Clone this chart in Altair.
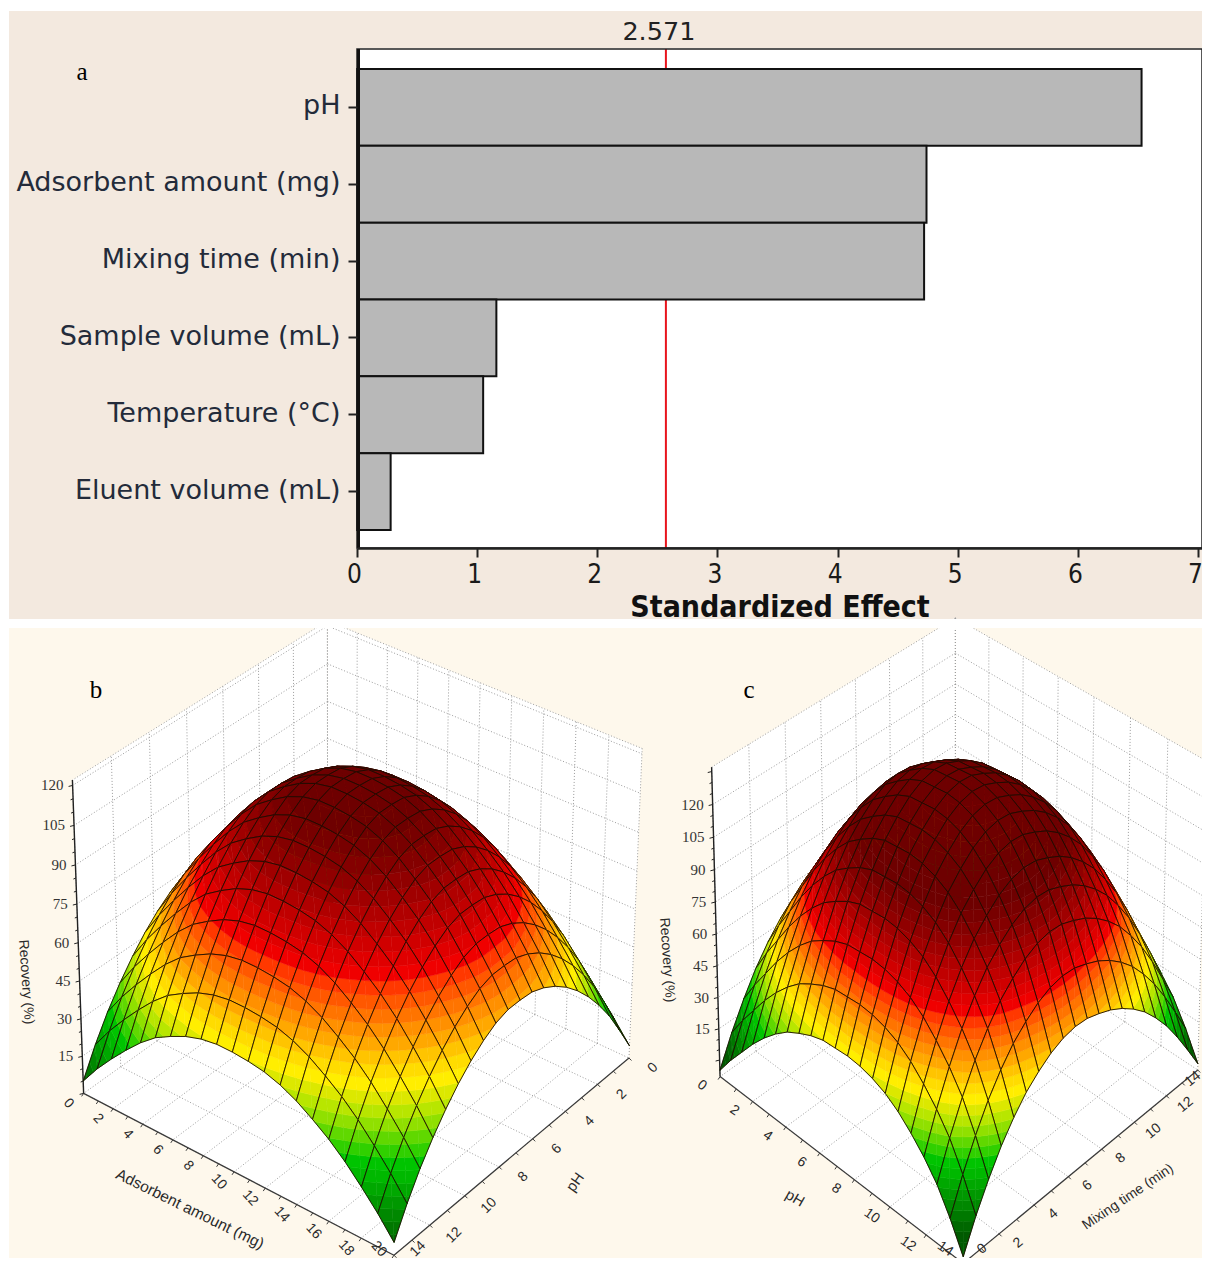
import altair as alt
import numpy as np
import pandas as pd

# ---------- panel a ----------
factors = ["pH", "Adsorbent amount (mg)", "Mixing time (min)", "Sample volume (mL)", "Temperature (°C)", "Eluent volume (mL)"]
effects = [6.53, 4.74, 4.72, 1.16, 1.05, 0.28]
threshold = 2.571
x_ticks = [0, 1, 2, 3, 4, 5, 6, 7]

# ---------- surfaces: heights read along the two edges of each surface ----------
b_base = 5
b_cross = 12
b_profile_x = [0, 8, 15, 21.5, 27.5, 32.5, 36, 39, 41, 42, 42, 41.5, 40.5, 38.5, 35.5, 31.5, 27, 21.5, 15, 8, 0]
b_profile_y = [0, 10, 19.5, 27.5, 34.5, 40.5, 45.5, 49.5, 52.5, 54.5, 55, 55, 53.5, 50.5, 46.5, 41.5, 35.5, 28.5, 20.5, 11, 0]
c_base = -5
c_cross = 24
c_profile_x = [0, 9, 17, 25, 32, 38, 43, 46.5, 49.5, 51.5, 52, 52.5, 52, 50.5, 48, 44, 38.5, 32, 24, 13, 0]
c_profile_y = [0, 11, 21.5, 31, 39, 46, 51.5, 56, 59.5, 62, 64, 64.5, 63.5, 61, 57, 52, 45, 36.5, 26, 14, 0]

band_colors = ["#005a00", "#006800", "#007800", "#008800", "#009800", "#00a800", "#00b800", "#00c400",
               "#30d000", "#60d800", "#90e000", "#b8e600", "#dce800", "#ffee00", "#ffdc00", "#ffc400",
               "#ffa800", "#ff9000", "#ff7400", "#ff5800", "#ff3800", "#f00000", "#e00000", "#d00000",
               "#c00000", "#b00000", "#a00000", "#900000", "#840000", "#780000", "#6e0000"]

z_ticks = [15, 30, 45, 60, 75, 90, 105, 120]
ORIGIN = 8
MAX_Y = 1249
MAX_X = 1193


def solve_camera(points):
    rows = []
    for (s, t, z, u, v) in points:
        z = z / 100.0
        rows.append([s, t, z, 1, 0, 0, 0, 0, -u * s, -u * t, -u * z, -u])
        rows.append([0, 0, 0, 0, s, t, z, 1, -v * s, -v * t, -v * z, -v])
    _, _, vt = np.linalg.svd(np.array(rows, dtype=float))
    return vt[-1].reshape(3, 4)


def project(cam, s, t, z):
    h = cam @ np.array([s, t, z / 100.0, 1.0])
    return [float(h[0] / h[2]) - ORIGIN, float(h[1] / h[2]) - ORIGIN]


def line(pts, stroke, sw):
    return {"type": "Feature", "geometry": {"type": "LineString", "coordinates": pts},
            "properties": {"fill": "transparent", "stroke": stroke, "sw": sw}}


def poly(pts, fill, stroke=None, sw=0.5):
    return {"type": "Feature", "geometry": {"type": "Polygon", "coordinates": [pts + [pts[0]]]},
            "properties": {"fill": fill, "stroke": stroke or fill, "sw": sw}}


def clip(tri, lo, hi):
    def cut(pts, level, keep_above):
        out = []
        n = len(pts)
        for i in range(n):
            a, b = pts[i], pts[(i + 1) % n]
            ina = a[2] >= level if keep_above else a[2] <= level
            inb = b[2] >= level if keep_above else b[2] <= level
            if ina:
                out.append(a)
            if ina != inb:
                f = (level - a[2]) / (b[2] - a[2])
                out.append(tuple(a[k] + f * (b[k] - a[k]) for k in range(3)))
        return out
    pts = cut(tri, lo, True)
    if pts:
        pts = cut(pts, hi, False)
    return pts


def wall_features(cam, zfloor, ztop, x_n, y_n):
    f = []
    B, L, R, F = [project(cam, *c, zfloor) for c in [(0, 0), (0, 1), (1, 0), (1, 1)]]
    Bt, Lt, Rt = [project(cam, *c, ztop) for c in [(0, 0), (0, 1), (1, 0)]]
    f.append(poly([L, F, R, B], "#ffffff", "#ffffff"))
    f.append(poly([L, B, Bt, Lt], "#ffffff", "#ffffff"))
    f.append(poly([B, R, Rt, Bt], "#ffffff", "#ffffff"))
    grid = "#9c9c9c"
    for i in range(x_n + 1):
        s = i / x_n
        f.append(line([project(cam, s, 0, zfloor), project(cam, s, 1, zfloor)], grid, 1))
        f.append(line([project(cam, s, 0, zfloor), project(cam, s, 0, ztop)], grid, 1))
    for j in range(y_n + 1):
        t = j / y_n
        f.append(line([project(cam, 0, t, zfloor), project(cam, 1, t, zfloor)], grid, 1))
        f.append(line([project(cam, 0, t, zfloor), project(cam, 0, t, ztop)], grid, 1))
    for z in z_ticks + [ztop]:
        f.append(line([project(cam, 0, 0, z), project(cam, 0, 1, z)], grid, 1))
        f.append(line([project(cam, 0, 0, z), project(cam, 1, 0, z)], grid, 1))
    return f


def surface_features(cam, zfloor, ztop, base, cross, prof_x, prof_y, step, x_n, y_n):
    f = []
    _, L, R, F = [project(cam, *c, zfloor) for c in [(0, 0), (0, 1), (1, 0), (1, 1)]]
    Lt = project(cam, 0, 1, ztop)
    dark = "#3a3a3a"
    f.append(line([L, F], dark, 1.2))
    f.append(line([F, R], dark, 1.2))
    f.append(line([L, Lt], "#222222", 1.4))
    for k in range(2 * x_n + 1):
        p = project(cam, k / (2 * x_n), 1, zfloor)
        f.append(line([p, [p[0] - 2, p[1] + 3]], dark, 1))
    for k in range(2 * y_n + 1):
        p = project(cam, 1, k / (2 * y_n), zfloor)
        f.append(line([p, [p[0] + 2.5, p[1] + 2.5]], dark, 1))
    z = 0
    while z <= ztop:
        p = project(cam, 0, 1, z)
        f.append(line([p, [p[0] - (4 if z % 15 == 0 else 2.5), p[1] + 1]], "#222222", 1))
        z += 5
    n = len(prof_x) - 1
    m = len(prof_y) - 1
    mx, my = max(prof_x), max(prof_y)
    for i in range(n):
        for j in range(m):
            def v(a, b):
                return (a / n, b / m, base + prof_x[a] + prof_y[b] + cross * prof_x[a] / mx * prof_y[b] / my)
            A, Bv, C, D = v(i, j), v(i + 1, j), v(i + 1, j + 1), v(i, j + 1)
            for tri in ((A, Bv, C), (A, C, D)):
                zs = [q[2] for q in tri]
                lo_k = int(min(zs) // step)
                hi_k = int(max(zs) // step)
                for k in range(lo_k, hi_k + 1):
                    pts = clip(list(tri), k * step, (k + 1) * step)
                    if len(pts) >= 3:
                        col = band_colors[min(max(k, 0), len(band_colors) - 1)]
                        f.append(poly([project(cam, q[0], q[1], q[2]) for q in pts], col))
            outline = [project(cam, q[0], q[1], q[2]) for q in (A, Bv, C, D, A)]
            f.append(line(outline, "#1c0c00", 0.9))
    return f


cam_b = solve_camera([(0, 0, 0, 327, 905), (0, 1, 0, 86, 1104), (1, 0, 0, 628, 1068), (1, 1, 0, 393, 1248),
                      (0, 0, 122, 327, 628), (0, 1, 122, 71, 776), (1, 0, 122, 644, 745)])
cam_c = solve_camera([(0, 0, -8, 955, 890), (0, 1, -8, 723, 1092), (1, 0, -8, 1195, 1086), (1, 1, -8, 963, 1252),
                      (0, 0, 137, 955, 628), (0, 1, 137, 709, 762), (1, 0, 137, 1209, 755)])

walls = wall_features(cam_b, 0, 122, 10, 7) + wall_features(cam_c, -8, 137, 7, 7)
features = surface_features(cam_b, 0, 122, b_base, b_cross, b_profile_x, b_profile_y, 3.6, 10, 7)
features += surface_features(cam_c, -8, 137, c_base, c_cross, c_profile_x, c_profile_y, 3.6, 7, 7)

# ---------- text of the 3D panels ----------
texts = []


def add_text(lst, text, x, y, angle=0, size=14):
    lst.append({"text": text, "px": min(x, MAX_X) - ORIGIN, "py": min(y, MAX_Y) - ORIGIN, "angle": angle, "size": size})


serif = "Liberation Serif"
for i in range(11):
    p = project(cam_b, i / 10, 1, 0)
    add_text(texts, str(2 * i), p[0] + ORIGIN - 15, p[1] + ORIGIN + 10, 48, 14)
for j in range(8):
    p = project(cam_b, 1, j / 7, 0)
    add_text(texts, str(2 * j), p[0] + ORIGIN + 24, p[1] + ORIGIN + 10, 315, 14)
for j in range(8):
    p = project(cam_c, j / 7, 1, -8)
    add_text(texts, str(2 * j), p[0] + ORIGIN - 18, p[1] + ORIGIN + 9, 35, 14)
for j in range(8):
    p = project(cam_c, 1, 1 - j / 7, -8)
    add_text(texts, str(2 * j), p[0] + ORIGIN + 19, p[1] + ORIGIN + 9, 320, 14)
right = []
for z in z_ticks:
    p = project(cam_b, 0, 1, z)
    add_text(right, str(z), p[0] + ORIGIN - 9, p[1] + ORIGIN, 0, 15)
    p = project(cam_c, 0, 1, z)
    add_text(right, str(z), p[0] + ORIGIN - 9, p[1] + ORIGIN, 0, 15)

add_text(texts, "Adsorbent amount (mg)", 190, 1209, 26, 15.5)
add_text(texts, "pH", 575, 1182, 305, 15)
add_text(texts, "pH", 795, 1198, 30, 15)
add_text(texts, "Mixing time (min)", 1128, 1197, 326, 14)
add_text(texts, "Recovery (%)", 26, 982, 86, 14)
add_text(texts, "Recovery (%)", 667, 960, 86, 14)

letters = []
add_text(letters, "a", 82, 72, 0, 25)
add_text(letters, "b", 96, 690, 0, 25)
add_text(letters, "c", 749, 690, 0, 25)

proj = dict(type="identity", scale=1, translate=[0, 0])

# ---------- layers ----------
one = pd.DataFrame({"k": [0]})
bg = [
    alt.Chart(one).mark_rect(color=c).encode(
        x=alt.value(x0), x2=alt.value(x1), y=alt.value(y0), y2=alt.value(y1))
    for c, x0, x1, y0, y1 in [
        ("#f3e9df", 1, 1194, 3, 611),
        ("#fef8ec", 1, 1194, 620, 1250),
        ("#ffffff", 349, 1194, 40, 540),
    ]
]
gap = alt.Chart(one).mark_rect(color="#ffffff").encode(
    x=alt.value(0), x2=alt.value(1194), y=alt.value(611), y2=alt.value(620))

xscale = alt.Scale(domain=[0, 7.033], range=[349, 1194], nice=False, zero=False)
yscale = alt.Scale(domain=factors, range=[61, 522], paddingInner=0, paddingOuter=0)
x_axis = alt.Axis(
    orient="bottom", offset=-710, values=x_ticks, title="Standardized Effect", grid=False, zindex=1,
    domainColor="#222222", domainWidth=2.5, tickColor="#222222", tickWidth=2, tickSize=9,
    labelFont="DejaVu Sans Condensed", labelFontSize=26, labelColor="#1a1a1a", labelPadding=4, labelFlush=False,
    labelOffset=-3, titleFont="DejaVu Sans Condensed", titleFontSize=30, titleFontWeight="bold", titleColor="#111111",
    titlePadding=5, labelOverlap=False, format="d")
dfa = pd.DataFrame({"factor": factors, "effect": effects})

bars = alt.Chart(dfa).mark_bar(fill="#b8b8b8", stroke="#111111", strokeWidth=2).encode(
    x=alt.X("effect:Q", scale=xscale, axis=x_axis),
    x2=alt.datum(0),
    y=alt.Y("factor:N", sort=factors, scale=yscale, axis=alt.Axis(
        orient="left", offset=-349, title=None, grid=False, domain=False, zindex=1,
        tickColor="#222222", tickWidth=2, tickSize=9, labelOffset=-1,
        labelFont="DejaVu Sans", labelFontSize=27, labelColor="#232b3a", labelPadding=8, labelLimit=400)),
)
frame = alt.Chart(one).mark_rect(fill="transparent", stroke="#222222", strokeWidth=1.5).encode(
    x=alt.value(349), x2=alt.value(1194), y=alt.value(41), y2=alt.value(540))
left_edge = alt.Chart(one).mark_rule(color="#111111", strokeWidth=3).encode(
    x=alt.value(350.5), y=alt.value(41), y2=alt.value(540))
rule = alt.Chart(pd.DataFrame({"t": [threshold]})).mark_rule(color="#e8141c", strokeWidth=2).encode(
    x=alt.X("t:Q", scale=xscale, axis=x_axis), y=alt.value(41), y2=alt.value(540))
rule_text = alt.Chart(pd.DataFrame({"t": [threshold], "label": ["2.571"]})).mark_text(
    font="DejaVu Sans", fontSize=25.5, color="#222222", dx=-7, baseline="middle").encode(
    x=alt.X("t:Q", scale=xscale, axis=x_axis), y=alt.value(24), text="label:N")

wall_l = alt.Chart(alt.Data(values=walls)).mark_geoshape(strokeDash=[1, 2]).encode(
    color=alt.Color("properties.fill:N", scale=None, legend=None),
    stroke=alt.Stroke("properties.stroke:N", scale=None, legend=None),
    strokeWidth=alt.StrokeWidth("properties.sw:Q", scale=None, legend=None),
).project(**proj)
surface = alt.Chart(alt.Data(values=features)).mark_geoshape().encode(
    color=alt.Color("properties.fill:N", scale=None, legend=None),
    stroke=alt.Stroke("properties.stroke:N", scale=None, legend=None),
    strokeWidth=alt.StrokeWidth("properties.sw:Q", scale=None, legend=None),
).project(**proj)

text_l = alt.Chart(alt.Data(values=texts)).mark_text(color="#2a2a2a", baseline="middle", font="Liberation Sans").encode(
    longitude="px:Q", latitude="py:Q", text="text:N",
    angle=alt.Angle("angle:Q", scale=None), size=alt.Size("size:Q", scale=None, legend=None)).project(**proj)
right_l = alt.Chart(alt.Data(values=right)).mark_text(color="#333333", baseline="middle", align="right", font=serif).encode(
    longitude="px:Q", latitude="py:Q", text="text:N",
    size=alt.Size("size:Q", scale=None, legend=None)).project(**proj)
letter_l = alt.Chart(alt.Data(values=letters)).mark_text(color="#000000", baseline="middle", font=serif).encode(
    longitude="px:Q", latitude="py:Q", text="text:N",
    size=alt.Size("size:Q", scale=None, legend=None)).project(**proj)

chart = alt.layer(*bg, rule, bars, frame, left_edge, rule_text, wall_l, surface, gap, text_l, right_l, letter_l).properties(
    width=1194, height=1250, padding=0, autosize=alt.AutoSizeParams(type="none"), background="white",
).configure_view(stroke=None)

chart.save("out.html", embed_options={"renderer": "svg", "actions": False})
